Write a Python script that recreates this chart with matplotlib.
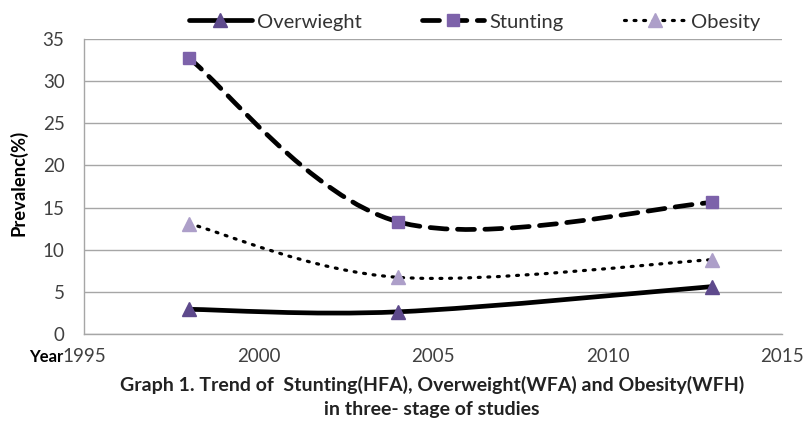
import matplotlib
matplotlib.use("Agg")
import matplotlib.pyplot as plt
from matplotlib.path import Path
from matplotlib.patches import PathPatch
from matplotlib.lines import Line2D

plt.rcParams['font.family'] = ['Lato', 'DejaVu Sans']

years = [1998, 2004, 2013]
overweight = [2.9, 2.6, 5.6]
stunting = [32.8, 13.3, 15.6]
obesity = [13.1, 6.7, 8.8]
series_names = ["Overwieght", "Stunting", "Obesity"]
xticks = [1995, 2000, 2005, 2010, 2015]
yticks = [0, 5, 10, 15, 20, 25, 30, 35]


def smooth_path(xs, ys):
    pts = list(zip(xs, ys))
    n = len(pts)
    verts = [pts[0]]
    codes = [Path.MOVETO]
    for i in range(n - 1):
        p0 = pts[i - 1] if i > 0 else pts[i]
        p1 = pts[i]
        p2 = pts[i + 1]
        p3 = pts[i + 2] if i + 2 < n else pts[i + 1]
        c1 = (p1[0] + (p2[0] - p0[0]) / 6, p1[1] + (p2[1] - p0[1]) / 6)
        c2 = (p2[0] - (p3[0] - p1[0]) / 6, p2[1] - (p3[1] - p1[1]) / 6)
        verts += [c1, c2, p2]
        codes += [Path.CURVE4] * 3
    return Path(verts, codes)


fig = plt.figure(figsize=(8.04, 4.22), dpi=100)
ax = fig.add_axes([84 / 804, 1 - 333.7 / 422, (782 - 84) / 804, (333.7 - 39.3) / 422])

styles = [
    dict(data=overweight, ls='-', lw=3.4, marker='^', mc='#5e4a8c', ms=10),
    dict(data=stunting, ls=(0, (3.6, 2.2)), lw=3.4, marker='s', mc='#7d62aa', ms=9),
    dict(data=obesity, ls=(0, (0.6, 2.4)), lw=2.3, marker='^', mc='#ad9fc9', ms=10),
]

handles = []
for name, st in zip(series_names, styles):
    patch = PathPatch(smooth_path(years, st['data']), facecolor='none', edgecolor='black',
                      lw=st['lw'], linestyle=st['ls'], capstyle='round', zorder=3)
    ax.add_patch(patch)
    ax.plot(years, st['data'], linestyle='none', marker=st['marker'], ms=st['ms'],
            mfc=st['mc'], mec=st['mc'], zorder=4)
    handles.append(Line2D([], [], color='black', lw=st['lw'], linestyle=st['ls'],
                          dash_capstyle='round', solid_capstyle='round',
                          marker=st['marker'], ms=st['ms'], mfc=st['mc'], mec=st['mc'],
                          label=name))

ax.set_xlim(1995, 2015)
ax.set_ylim(0, 35)
ax.set_xticks(xticks)
ax.set_yticks(yticks)
ax.tick_params(length=0, labelsize=13.5, colors='#404040')
ax.tick_params(axis='y', pad=14)
ax.tick_params(axis='x', pad=10)
ax.yaxis.grid(True, color='#a6a6a6', lw=1)
ax.set_axisbelow(True)
for s in ['top', 'right']:
    ax.spines[s].set_visible(False)
for s in ['left', 'bottom']:
    ax.spines[s].set_color('#a6a6a6')
    ax.spines[s].set_linewidth(1)

fig.text(18 / 804, 1 - 183 / 422, "Prevalenc(%)", rotation=90, ha='center', va='center',
         fontsize=13.2, fontweight='bold', color='black')
fig.text(63 / 804, 1 - 357 / 422, "Year", ha='right', va='center',
         fontsize=12, fontweight='bold', color='black')
fig.text(432 / 804, 1 - 385 / 422, "Graph 1. Trend of  Stunting(HFA), Overweight(WFA) and Obesity(WFH)",
         ha='center', va='center', fontsize=14, fontweight='bold', color='#222222')
fig.text(432 / 804, 1 - 409 / 422, "in three- stage of studies",
         ha='center', va='center', fontsize=14, fontweight='bold', color='#222222')

fig.legend(handles=handles, loc='center', bbox_to_anchor=(475 / 804, 1 - 22 / 422), ncol=3,
           frameon=False, fontsize=14.5, handlelength=3.1, handletextpad=0.25,
           columnspacing=3.0, labelcolor='#333333', borderpad=0)

fig.savefig("out.png", dpi=100, facecolor='white')
